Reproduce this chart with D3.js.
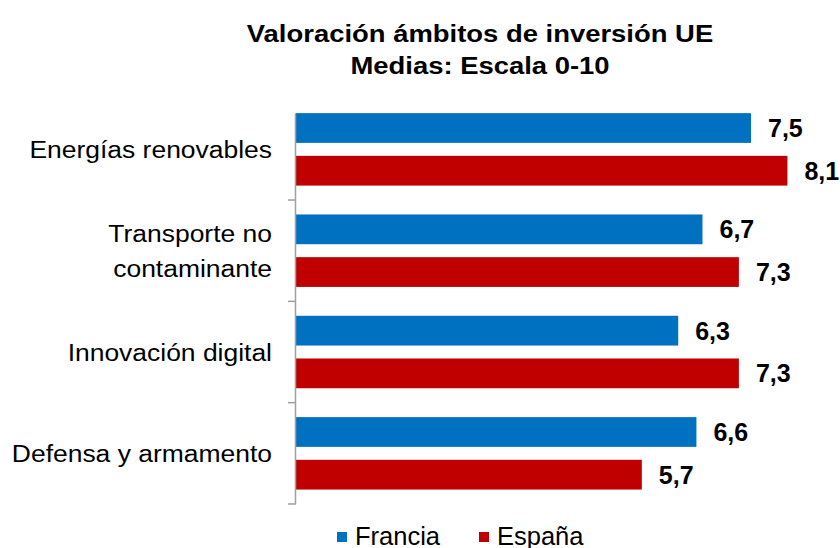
<!DOCTYPE html>
<html><head><meta charset="utf-8">
<script src="https://cdn.jsdelivr.net/npm/d3@7"></script>
<style>body{margin:0;background:#fff}svg{display:block}</style>
</head><body>
<script>
const categories = [["Energías renovables"], ["Transporte no", "contaminante"], ["Innovación digital"], ["Defensa y armamento"]];
const seriesNames = ["Francia", "España"];
const francia = [7.5, 6.7, 6.3, 6.6];
const espana = [8.1, 7.3, 7.3, 5.7];
const titleLines = ["Valoración ámbitos de inversión UE", "Medias: Escala 0-10"];
const colors = ["#0070C0", "#C00000"];

const W = 840, H = 548;
const svg = d3.select("body").append("svg").attr("width", W).attr("height", H);
const font = "'Liberation Sans', Arial, sans-serif";

const keys = categories.map((c, i) => i);
const x = d3.scaleLinear().domain([0, 10]).range([296, 296 + 606.7]);
const y0 = d3.scaleBand().domain(keys).range([98.7, 504]).paddingInner(0).paddingOuter(0);
const y1 = d3.scaleBand().domain(seriesNames).range([0, y0.bandwidth()]).paddingInner(0.303).paddingOuter(0.338);
const data = [francia, espana];

// title
svg.append("g").selectAll("text").data(titleLines).join("text")
  .attr("transform", (d, i) => `translate(480,${41.5 + i * 32.5}) scale(1.12,1)`)
  .attr("text-anchor", "middle").attr("font-family", font)
  .attr("font-weight", "bold").attr("font-size", 24.5).attr("fill", "#000")
  .text(d => d);

// bars
seriesNames.forEach((s, si) => {
  svg.append("g").selectAll("rect").data(data[si]).join("rect")
    .attr("x", x(0))
    .attr("y", (d, i) => y0(i) + y1(s))
    .attr("width", d => x(d) - x(0))
    .attr("height", y1.bandwidth())
    .attr("fill", colors[si]);
  svg.append("g").selectAll("text").data(data[si]).join("text")
    .attr("x", d => x(d) + 17)
    .attr("y", (d, i) => y0(i) + y1(s) + y1.bandwidth() / 2)
    .attr("dy", "0.36em")
    .attr("font-family", font).attr("font-weight", "bold").attr("font-size", 25)
    .attr("fill", "#000")
    .text(d => d3.format(".1f")(d).replace(".", ","));
});

// axis
const ag = svg.append("g").attr("stroke", "#A0A0A0").attr("stroke-width", 1.5);
ag.append("line").attr("x1", x(0) - 0.5).attr("x2", x(0) - 0.5)
  .attr("y1", y0(0) + y1(seriesNames[0])).attr("y2", y0.range()[1]);
ag.selectAll("line.t").data(keys.slice(1).concat(["end"])).join("line").attr("class", "t")
  .attr("x1", x(0) - 8).attr("x2", x(0))
  .attr("y1", d => d === "end" ? y0.range()[1] : y0(d))
  .attr("y2", d => d === "end" ? y0.range()[1] : y0(d));

// category labels
categories.forEach((lines, i) => {
  const cy = y0(i) + y0.bandwidth() / 2;
  const lh = 35;
  lines.forEach((l, j) => {
    svg.append("text").attr("font-family", font).attr("font-size", 24.5)
      .attr("text-anchor", "end").attr("fill", "#000")
      .attr("transform", `translate(272,${cy + (j - (lines.length - 1) / 2) * lh + 8.8}) scale(1.08,1)`)
      .text(l);
  });
});

// legend
const legX = [337, 479];
seriesNames.forEach((s, i) => {
  svg.append("rect").attr("x", legX[i]).attr("y", 532).attr("width", 10).attr("height", 10).attr("fill", colors[i]);
  svg.append("text").attr("x", legX[i] + 18).attr("y", 544.5)
    .attr("font-family", font).attr("font-size", 25.5).attr("fill", "#000").text(s);
});
</script>
</body></html>
